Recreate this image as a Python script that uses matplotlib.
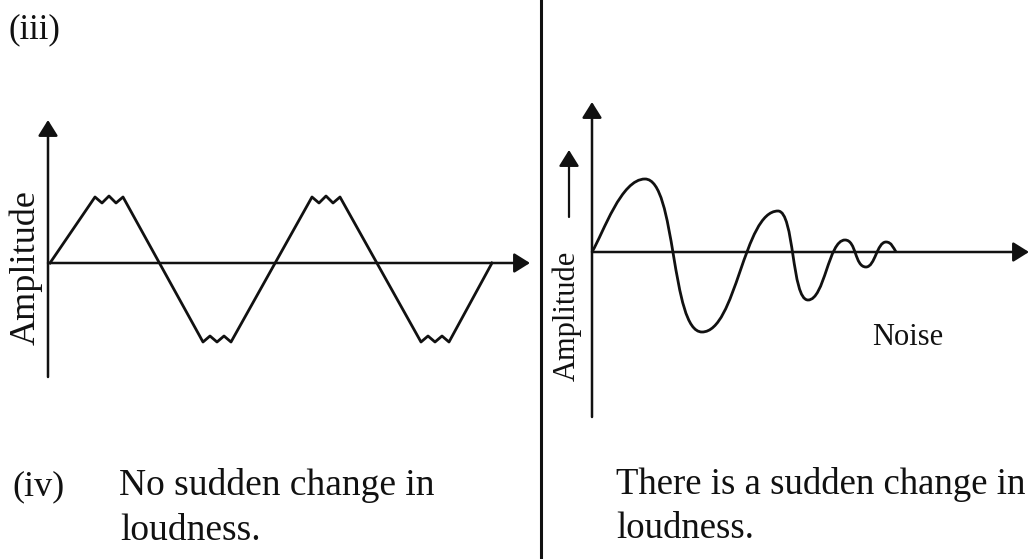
import matplotlib
matplotlib.use("Agg")
import matplotlib.pyplot as plt
from matplotlib.path import Path
from matplotlib.patches import PathPatch

plt.rcParams['font.family'] = ['Liberation Serif', 'DejaVu Serif']

# left wave: triangle-ish signal with small ripples on the flat tops (time, amplitude)
left_t = [0.2, 4.7, 5.4, 6.1, 6.8, 7.5, 15.5, 16.2, 16.9, 17.6, 18.3,
          26.4, 27.1, 27.8, 28.5, 29.2, 37.3, 38.0, 38.7, 39.4, 40.1, 44.4]
left_amp = [0, 6.6, 6.0, 6.7, 6.0, 6.6, -7.9, -7.3, -7.9, -7.3, -7.9,
            6.6, 6.0, 6.7, 6.0, 6.6, -7.9, -7.3, -7.9, -7.3, -7.9, 0]

# right wave: damped noise, peaks and troughs (time, amplitude)
right_t = [0, 5.3, 11.0, 18.6, 21.6, 25.3, 27.4, 29.4, 30.4]
right_amp = [0, 7.3, -8.0, 4.1, -4.8, 1.2, -1.5, 1.0, 0]

left_caption = ["No sudden change in", "loudness."]
right_caption = ["There is a sudden change in", "loudness."]

W, H = 1034, 559
fig = plt.figure(figsize=(W / 100, H / 100), dpi=100)

# page layer in pixel units
bg = fig.add_axes([0, 0, 1, 1])
bg.set_xlim(0, W)
bg.set_ylim(H, 0)
bg.axis('off')

ink = '#111111'
bg.plot([541, 541], [0, H], color=ink, lw=2.2)
bg.text(8, 38, "(iii)", fontsize=25, color=ink)
bg.text(12, 495, "(iv)", fontsize=26, color=ink)
bg.text(119, 495, left_caption[0], fontsize=27, color=ink)
bg.text(120, 540, left_caption[1], fontsize=27, color=ink)
bg.text(616, 494, right_caption[0], fontsize=26.5, color=ink)
bg.text(616, 538, right_caption[1], fontsize=26.5, color=ink)


def wave_axes(x0, x1, y0, y1, ylo, yhi):
    ax = fig.add_axes([x0 / W, 1 - y1 / H, (x1 - x0) / W, (y1 - y0) / H])
    ax.set_xlim(0, (x1 - x0) / 10)
    ax.set_ylim(ylo, yhi)
    ax.axis('off')
    ax.patch.set_alpha(0)
    return ax


arrow = dict(arrowstyle='-|>,head_length=0.4,head_width=0.25', mutation_scale=24,
             color=ink, lw=1.8, shrinkA=0, shrinkB=0)


def draw_axes(ax):
    xmax = ax.get_xlim()[1]
    ylo, yhi = ax.get_ylim()
    ax.annotate('', xy=(0, yhi), xytext=(0, ylo), arrowprops=arrow, annotation_clip=False)
    ax.annotate('', xy=(xmax, 0), xytext=(0, 0), arrowprops=arrow, annotation_clip=False)


# left panel
axl = wave_axes(48, 530, 120, 377, -11.4, 14.3)
draw_axes(axl)
axl.plot(left_t, left_amp, color=ink, lw=2.0, solid_joinstyle='round', clip_on=False)
bg.text(26, 268, "Amplitude", fontsize=26, rotation=90, ha='center', va='center', color=ink)

# right panel
axr = wave_axes(592, 1029, 102, 417, -16.5, 15.0)
draw_axes(axr)
verts = [(right_t[0], right_amp[0])]
codes = [Path.MOVETO]
for i in range(len(right_t) - 1):
    t0, a0 = right_t[i], right_amp[i]
    t1, a1 = right_t[i + 1], right_amp[i + 1]
    dx = t1 - t0
    k = 0.55 if a1 < a0 else 0.45
    if i == 0:
        c1 = (t0 + 0.22 * dx, a0 + 0.22 * dx * 1.7)
    else:
        c1 = (t0 + k * dx, a0)
    if i == len(right_t) - 2:
        c2 = (t1 - 0.25 * dx, a1 + 0.4 * (a0 - a1))
    else:
        c2 = (t1 - k * dx, a1)
    verts += [c1, c2, (t1, a1)]
    codes += [Path.CURVE4] * 3
axr.add_patch(PathPatch(Path(verts, codes), fill=False, edgecolor=ink, lw=2.0, clip_on=False))

bg.text(567, 316, "Amplitude", fontsize=22, rotation=90, ha='center', va='center', color=ink)
bg.annotate('', xy=(569, 150), xytext=(569, 217),
            arrowprops=dict(arrowstyle='-|>,head_length=0.45,head_width=0.28', mutation_scale=22,
                            color=ink, lw=1.6, shrinkA=0, shrinkB=0))
bg.text(872, 345, "Noise", fontsize=22, color=ink)

fig.savefig("out.png", dpi=100)
